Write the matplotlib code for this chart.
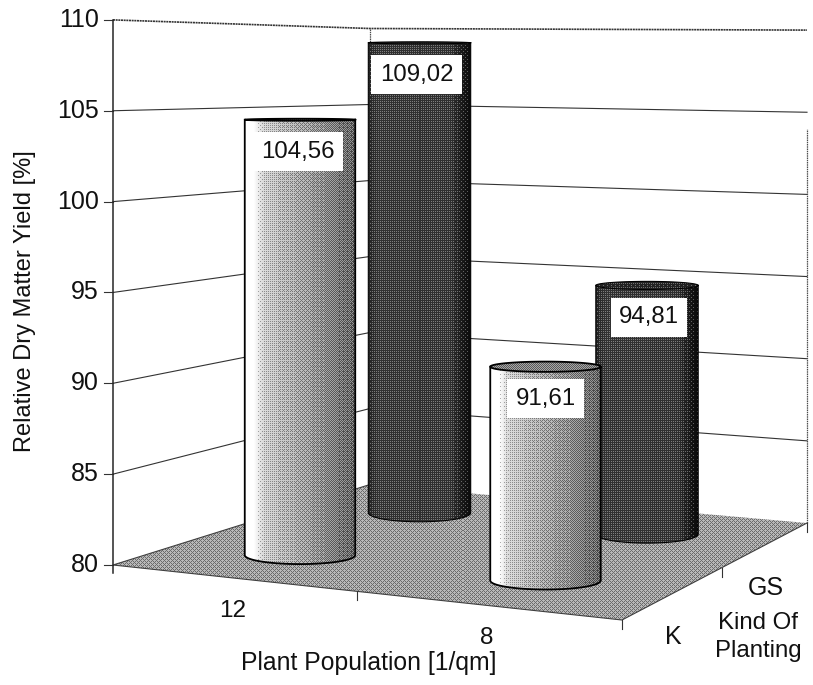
import numpy as np
import matplotlib
matplotlib.use("Agg")
from matplotlib import pyplot as plt
from matplotlib.patches import Polygon

plt.rcParams['font.family'] = ['Liberation Sans', 'DejaVu Sans']

outputFileName = "out.png"

# data
populations = ["12", "8"]
plantings = ["K", "GS"]
yield_k = [104.56, 91.61]
yield_gs = [109.02, 94.81]
value_ticks = [80, 85, 90, 95, 100, 105, 110]
value_labels = ["104,56", "91,61", "109,02", "94,81"]

z_min = 80.0
FS = 17.5

# corners of the floor in pixels, order front-left, front-right, back-right, back-left
floor_x = np.array([113.0, 622.0, 807.0, 370.0])
floor_y = np.array([565.0, 620.0, 523.0, 484.5])
# pixels per value unit at the same corners
unit_h = np.array([18.17, 19.9, 16.43, 15.2])


def weights(u, v):
    return np.array([(1-u)*(1-v), u*(1-v), u*v, (1-u)*v])


def proj(u, v, z=z_min):
    w = weights(u, v)
    return (w*floor_x).sum(), (w*floor_y).sum() - (w*unit_h).sum()*(z-z_min)


bayer = np.array([[0, 8, 2, 10], [12, 4, 14, 6], [3, 11, 1, 9], [15, 7, 13, 5]])


def halftone(tone):
    # ordered dither, softened a bit like the scanned print
    ii, jj = np.indices(tone.shape)
    thr = (bayer[ii % 4, jj % 4] + 0.5)/16.0
    dots = (tone > thr)*1.0
    return 0.3*dots + 0.7*tone


def paint(ax, tone, x0, y0, pts, z):
    h, w = tone.shape
    im = ax.imshow(halftone(tone), cmap="gray", vmin=0, vmax=1, interpolation="nearest",
                   extent=(x0, x0+w, y0+h, y0), zorder=z, aspect="auto")
    clip = Polygon(pts, closed=True, transform=ax.transData, fc="none", ec="none")
    ax.add_patch(clip)
    im.set_clip_path(clip)


def cylinder(ax, u, v, val, light, z):
    cx, base = proj(u, v)
    _, top = proj(u, v, val)
    base = base - 2.5
    du = (1-v)*(floor_x[1]-floor_x[0]) + v*(floor_x[2]-floor_x[3])
    r = 0.1125*du
    b0 = 9.0
    b1 = max(b0*(1-(val-z_min)/27.0), 1.0)
    a = np.linspace(0, np.pi, 60)

    low = np.column_stack([cx + r*np.cos(a), base + b0*np.sin(a)])
    upp = np.column_stack([cx - r*np.cos(a), top + b1*np.sin(a)])
    body = np.vstack([upp, low])

    x0, x1 = int(cx-r)-2, int(cx+r)+3
    y0, y1 = int(top-b1)-2, int(base+b0)+3
    t = np.clip((np.arange(x0, x1)+0.5-(cx-r))/(2*r), 0, 1)
    if light:
        shade = np.interp(t, [0, 0.08, 0.16, 0.35, 0.8, 1], [1, 1, 0.8, 0.7, 0.5, 0.38])
    else:
        shade = np.interp(t, [0, 0.1, 0.8, 0.95, 1], [0.2, 0.28, 0.26, 0.1, 0.06])
    tone = np.tile(shade, (y1-y0, 1))
    paint(ax, tone, x0, y0, body, z)

    # the cap
    aa = np.linspace(0, 2*np.pi, 80)
    cap = np.column_stack([cx + r*np.cos(aa), top + b1*np.sin(aa)])
    cap_tone = np.full((y1-y0, x1-x0), 0.5 if light else 0.2)
    paint(ax, cap_tone, x0, y0, cap, z+0.1)
    edge = 1.3 if light else 0.8
    ax.plot(cap[:, 0], cap[:, 1], color="k", lw=edge, zorder=z+0.2)
    outline = np.vstack([[[cx-r, top]], low[::-1], [[cx+r, top]]])
    ax.plot(outline[:, 0], outline[:, 1], color="k", lw=edge, zorder=z+0.2)
    return cx, top


fig = plt.figure(figsize=(8.13, 6.85), dpi=100)
ax = fig.add_axes([0, 0, 1, 1])
ax.set_xlim(0, 813)
ax.set_ylim(685, 0)
ax.axis("off")

# floor
x0, y0 = int(floor_x.min()), int(floor_y.min())
fw, fh = int(np.ptp(floor_x))+1, int(np.ptp(floor_y))+1
paint(ax, np.full((fh, fw), 0.6), x0, y0, np.column_stack([floor_x, floor_y]), 1)
ax.plot(floor_x[[3, 0, 1, 2]], floor_y[[3, 0, 1, 2]], color="0.25", lw=0.8, zorder=1.5)

# walls and gridlines
for val in value_ticks:
    pts = np.array([proj(0, 0, val), proj(0, 1, val), proj(1, 1, val)])
    if val == 110:
        ax.plot(pts[:, 0], pts[:, 1], color="0.2", lw=1.2, ls=(0, (1.2, 0.4)), zorder=2)
    elif val > z_min:
        ax.plot(pts[:, 0], pts[:, 1], color="0.2", lw=0.8, zorder=2)
    xt, yt = proj(0, 0, val)
    ax.plot([xt-9, xt], [yt, yt], color="0.2", lw=0.8, zorder=2)
    ax.text(xt-14, yt, str(val), ha="right", va="center", fontsize=FS+0.5, color="#111111")

# back corner runs the full height, the right edge fades out in the scan
for u, v, upper in [(0, 1, 110), (1, 1, 104)]:
    xa, ya = proj(u, v)
    xb, yb = proj(u, v, upper)
    ax.plot([xa, xb], [ya, yb], color="0.3", lw=0.9, ls=(0, (1.2, 0.6)), zorder=2)
xa, ya = proj(0, 0)
xb, yb = proj(0, 0, 110)
ax.plot([xa, xb], [ya+8, yb], color="0.15", lw=1.1, zorder=2)

# ticks under the floor
for u, v in [(0.48, 0), (1, 0), (1, 0.54), (1, 1)]:
    xt, yt = proj(u, v)
    ax.plot([xt, xt], [yt, yt+9], color="0.2", lw=0.8, zorder=2)

# bars, back row first
spots = [0.25, 0.75]
tops = {}
for i in range(2):
    tops[(i, 1)] = cylinder(ax, spots[i], 0.75, yield_gs[i], False, 3+i)
for i in range(2):
    tops[(i, 0)] = cylinder(ax, spots[i], 0.25, yield_k[i], True, 5+i)

order = [(0, 0), (1, 0), (0, 1), (1, 1)]
shift = [-2, 0, -3, 2]
for key, lab, dx in zip(order, value_labels, shift):
    cx, top = tops[key]
    ax.text(cx+dx, top+32, lab, ha="center", va="center", fontsize=17.3, color="#111111", zorder=9,
            bbox=dict(fc="white", ec="none", pad=6.0))

# category labels
for i, lab in enumerate(populations):
    xt, yt = proj(spots[i], 0)
    ax.text(xt-8, yt+32, lab, ha="center", va="center", fontsize=FS, color="#111111")
for j, lab in enumerate(plantings):
    xt, yt = proj(1, spots[j])
    ax.text(xt+5, yt+41, lab, ha="center", va="center", fontsize=FS+0.5, color="#111111")

ax.text(369, 663, "Plant Population [1/qm]", ha="center", va="center", fontsize=17.8, color="#111111")
ax.text(25, 301, "Relative Dry Matter Yield [%]", ha="center", va="center", rotation=90,
        fontsize=17, color="#111111")
ax.text(758, 637, "Kind Of\nPlanting", ha="center", va="center", fontsize=17.3, color="#111111",
        linespacing=1.35)

plt.savefig(outputFileName, dpi=100)
plt.close()
